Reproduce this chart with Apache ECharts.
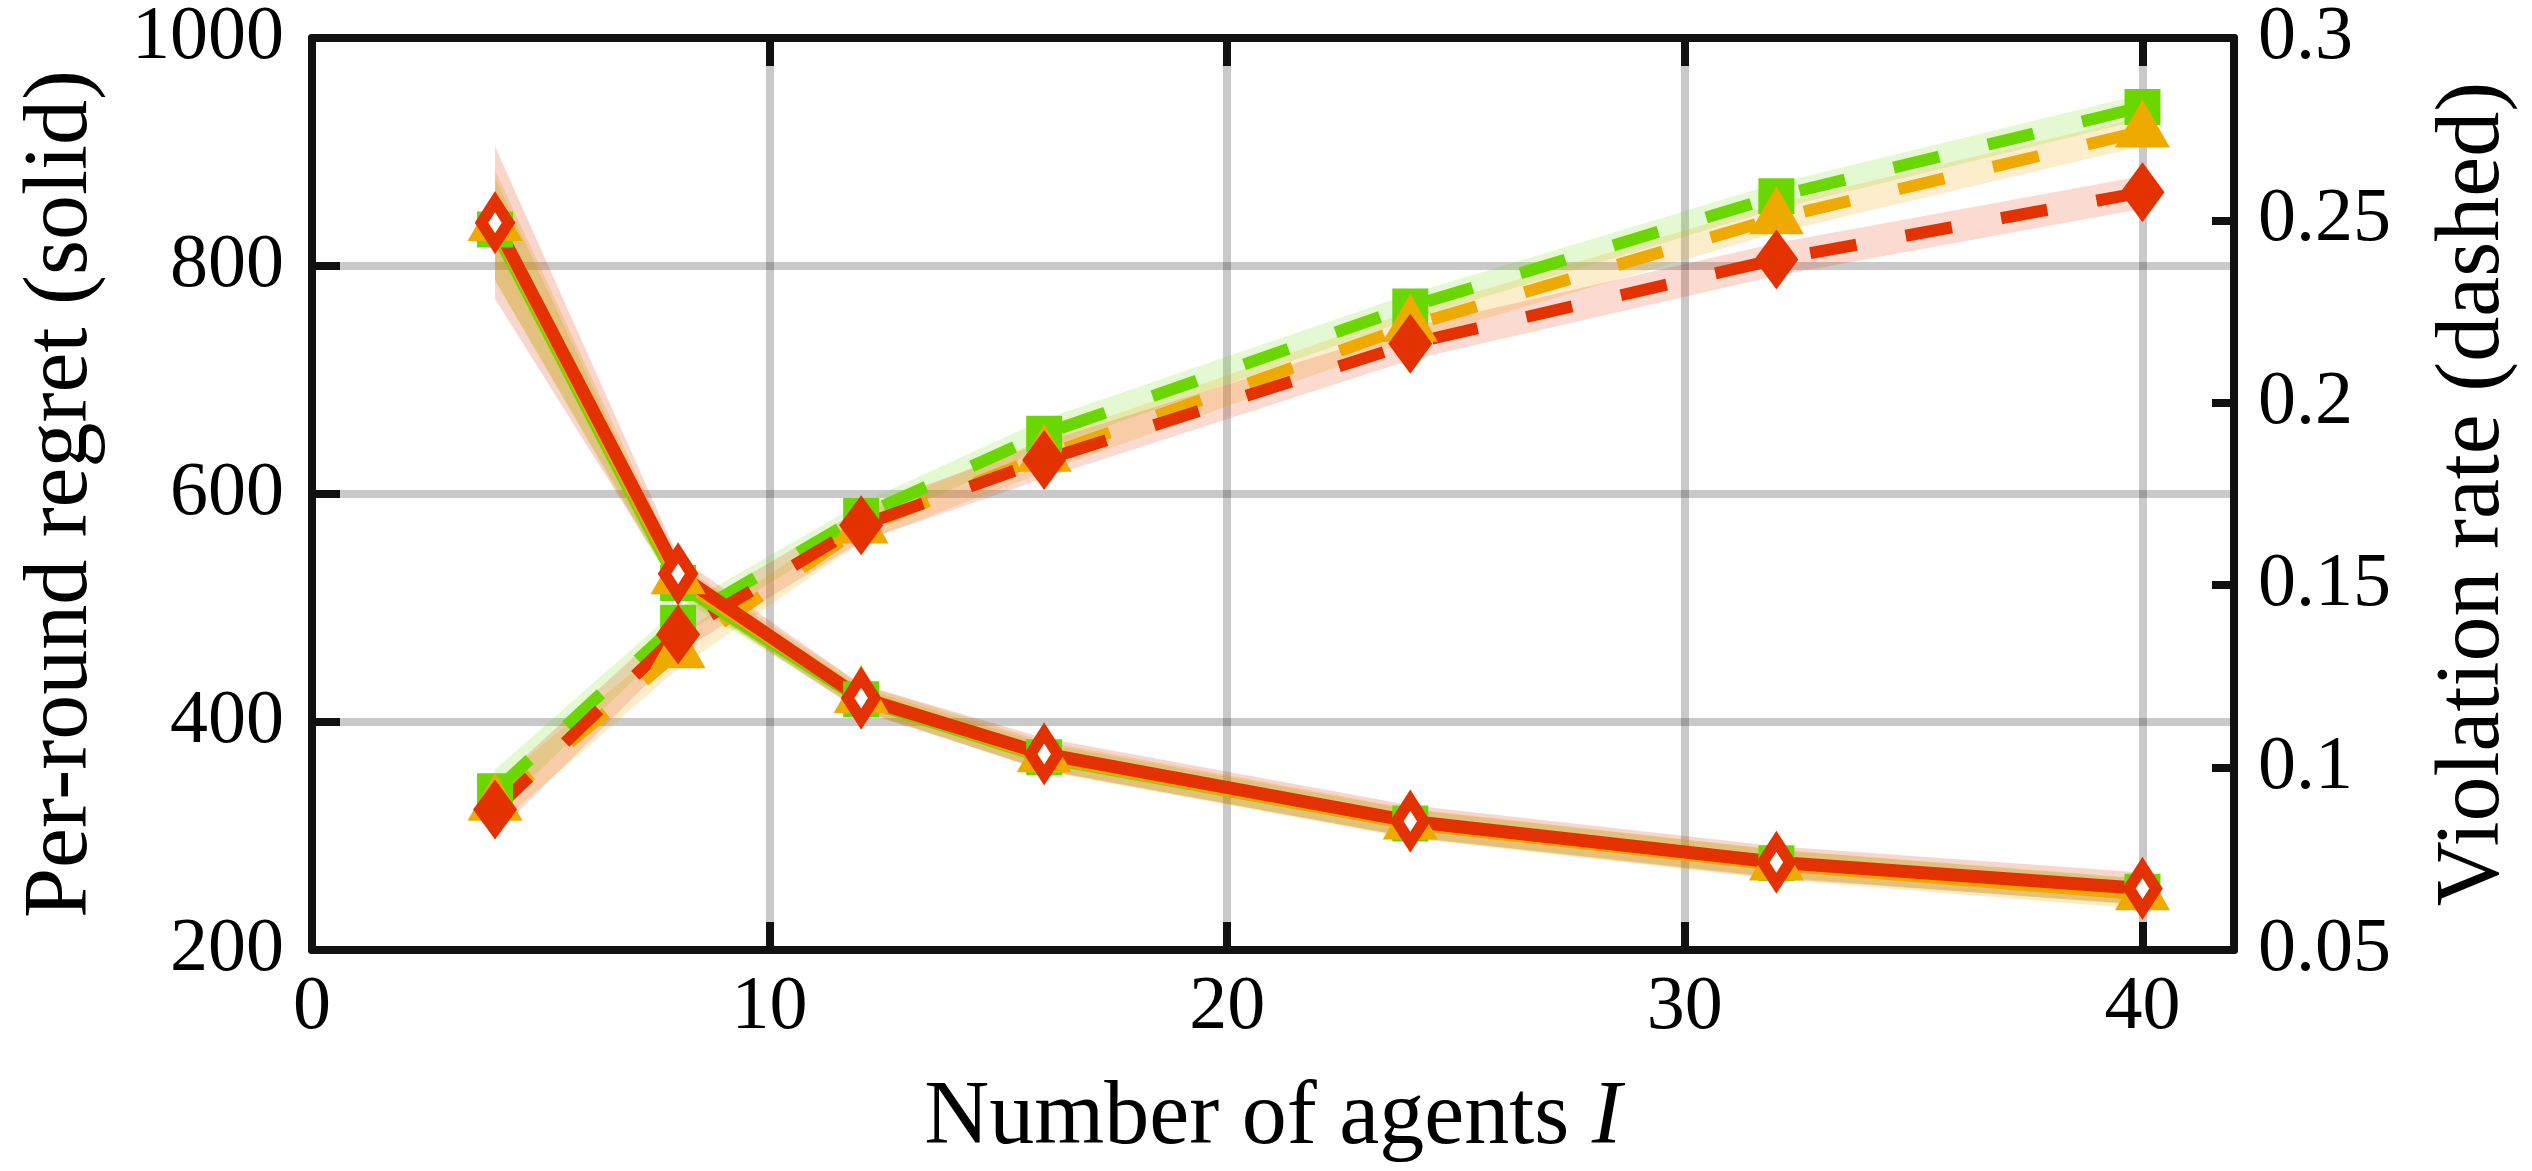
<!DOCTYPE html>
<html>
<head>
<meta charset="utf-8">
<script src="https://cdn.jsdelivr.net/npm/echarts@6/dist/echarts.min.js"></script>
<style>
html, body { margin: 0; padding: 0; background: #fff; }
#chart { width: 2532px; height: 1171px; }
</style>
</head>
<body>
<div id="chart"></div>
<script>
// number of agents
var agents = [4, 8, 12, 16, 24, 32, 40];

// per-round regret (solid, left axis)
var regretGreen  = [832, 522, 420, 369, 311, 276, 251];
var regretOrange = [836, 526, 422, 370, 311, 275, 249];
var regretRed    = [838, 530, 421, 372, 313, 277, 254];
// half widths of the shaded bands
var regretBandGreen  = [45, 12, 10, 12, 12, 12, 12];
var regretBandOrange = [48, 13, 11, 13, 13, 13, 13];
var regretBandRed    = [67, 15, 12, 14, 14, 14, 14];

// violation rate (dashed, right axis)
var violGreen  = [0.0935, 0.1397, 0.169, 0.1915, 0.2264, 0.2566, 0.2811];
var violOrange = [0.0898, 0.1316, 0.1658, 0.1855, 0.2211, 0.2506, 0.2744];
var violRed    = [0.0885, 0.1365, 0.1664, 0.1843, 0.2162, 0.2393, 0.2577];
var violBandGreen  = [0.006, 0.004, 0.0035, 0.004, 0.0035, 0.0035, 0.0035];
var violBandOrange = [0.006, 0.0045, 0.004, 0.0045, 0.004, 0.004, 0.004];
var violBandRed    = [0.007, 0.005, 0.0045, 0.005, 0.0045, 0.0045, 0.0045];

var GREEN = '#6AD800', ORANGE = '#EEAA00', RED = '#E33200';
var FONT = '"Liberation Serif", "DejaVu Serif", serif';

function pairs(ys) {
    return agents.map(function (x, i) { return [x, ys[i]]; });
}

// shaded band drawn as one polygon through the axis scales
function band(ys, hw, color, opacity, yAxisIndex) {
    return {
        type: 'custom', yAxisIndex: yAxisIndex, silent: true, z: 1, clip: true,
        data: [[agents[0], ys[0]]],
        renderItem: function (params, api) {
            var upper = [], lower = [];
            for (var i = 0; i < agents.length; i++) {
                upper.push(api.coord([agents[i], ys[i] + hw[i]]));
                lower.unshift(api.coord([agents[i], ys[i] - hw[i]]));
            }
            return {
                type: 'polygon',
                shape: { points: upper.concat(lower) },
                style: { fill: color, opacity: opacity }
            };
        }
    };
}

var triSize = [55, 48];
var triOffset = [0, -8];

var series = [
    band(violGreen, violBandGreen, GREEN, 0.18, 1),
    band(violOrange, violBandOrange, ORANGE, 0.2, 1),
    band(violRed, violBandRed, RED, 0.18, 1),
    band(regretGreen, regretBandGreen, GREEN, 0.2, 0),
    band(regretOrange, regretBandOrange, ORANGE, 0.24, 0),
    band(regretRed, regretBandRed, RED, 0.2, 0)
];

// dashed: violation rate
series.push({
    name: 'vg', type: 'line', yAxisIndex: 1, data: pairs(violGreen), z: 3,
    symbol: 'rect', symbolSize: 36,
    lineStyle: { color: GREEN, width: 12, type: [47, 50] },
    itemStyle: { color: GREEN }
});
series.push({
    name: 'vo', type: 'line', yAxisIndex: 1, data: pairs(violOrange), z: 3,
    symbol: 'triangle', symbolSize: triSize, symbolOffset: triOffset,
    lineStyle: { color: ORANGE, width: 12, type: [47, 50] },
    itemStyle: { color: ORANGE }
});
series.push({
    name: 'vr', type: 'line', yAxisIndex: 1, data: pairs(violRed), z: 3,
    symbol: 'diamond', symbolSize: [44, 60],
    lineStyle: { color: RED, width: 12, type: [47, 50] },
    itemStyle: { color: RED }
});

// solid: regret
series.push({
    name: 'rg', type: 'line', yAxisIndex: 0, data: pairs(regretGreen), z: 4,
    symbol: 'rect', symbolSize: 36,
    lineStyle: { color: GREEN, width: 13 },
    itemStyle: { color: GREEN }
});
series.push({
    name: 'ro', type: 'line', yAxisIndex: 0, data: pairs(regretOrange), z: 4,
    symbol: 'triangle', symbolSize: triSize, symbolOffset: triOffset,
    lineStyle: { color: ORANGE, width: 13 },
    itemStyle: { color: ORANGE }
});
series.push({
    name: 'rr', type: 'line', yAxisIndex: 0, data: pairs(regretRed), z: 4,
    symbol: 'diamond', symbolSize: [27, 42],
    lineStyle: { color: RED, width: 13 },
    itemStyle: { color: '#fff', borderColor: RED, borderWidth: 12, borderJoin: 'miter', borderMiterLimit: 10 }
});

series.forEach(function (s) { s.animation = false; s.emphasis = { disabled: true }; });

var axisLineStyle = { color: '#111', width: 8 };
var gridLine = { show: true, lineStyle: { color: 'rgba(0,0,0,0.21)', width: 8 } };
function plain(v) { return String(Math.round(v * 1000) / 1000); }

var option = {
    backgroundColor: '#fff',
    animation: false,
    grid: { left: 312, right: 298, top: 30, bottom: 221 },
    xAxis: [{
        type: 'value', min: 0, max: 42, interval: 10, position: 'bottom',
        name: '{t|Number of agents }{i|I}', nameLocation: 'middle', nameGap: 124,
        nameTextStyle: {
            rich: {
                t: { fontFamily: FONT, fontSize: 90, color: '#000' },
                i: { fontFamily: FONT, fontSize: 90, color: '#000', fontStyle: 'italic' }
            }
        },
        axisLine: { show: true, onZero: false, lineStyle: axisLineStyle },
        axisTick: { show: true, inside: true, length: 28, lineStyle: { color: '#111', width: 8 } },
        axisLabel: {
            margin: 20, fontFamily: FONT, fontSize: 76, color: '#000',
            formatter: function (v) { return v > 41 ? '' : plain(v); }
        },
        splitLine: gridLine
    }, {
        type: 'value', min: 0, max: 42, interval: 10, position: 'top',
        axisLine: { show: true, onZero: false, lineStyle: axisLineStyle },
        axisTick: { show: true, inside: true, length: 28, lineStyle: { color: '#111', width: 8 } },
        axisLabel: { show: false },
        splitLine: { show: false }
    }],
    yAxis: [{
        type: 'value', min: 200, max: 1000, interval: 200, position: 'left',
        name: 'Per-round regret (solid)', nameLocation: 'middle', nameGap: 205, nameRotate: 90,
        nameTextStyle: { fontFamily: FONT, fontSize: 90, color: '#000' },
        axisLine: { show: true, onZero: false, lineStyle: axisLineStyle },
        axisTick: { show: true, inside: true, length: 28, lineStyle: { color: '#111', width: 8 } },
        axisLabel: { margin: 28, fontFamily: FONT, fontSize: 76, color: '#000', formatter: plain },
        splitLine: gridLine
    }, {
        type: 'value', min: 0.05, max: 0.3, interval: 0.05, position: 'right',
        name: 'Violation rate (dashed)', nameLocation: 'middle', nameGap: 195, nameRotate: 90,
        nameTextStyle: { fontFamily: FONT, fontSize: 90, color: '#000' },
        axisLine: { show: true, onZero: false, lineStyle: axisLineStyle },
        axisTick: { show: true, inside: true, length: 22, lineStyle: { color: '#111', width: 8 } },
        axisLabel: { margin: 24, fontFamily: FONT, fontSize: 76, color: '#000', formatter: plain },
        splitLine: { show: false }
    }],
    series: series
};

var myChart = echarts.init(document.getElementById('chart'), null, { renderer: 'canvas' });
myChart.setOption(option);
</script>
</body>
</html>
